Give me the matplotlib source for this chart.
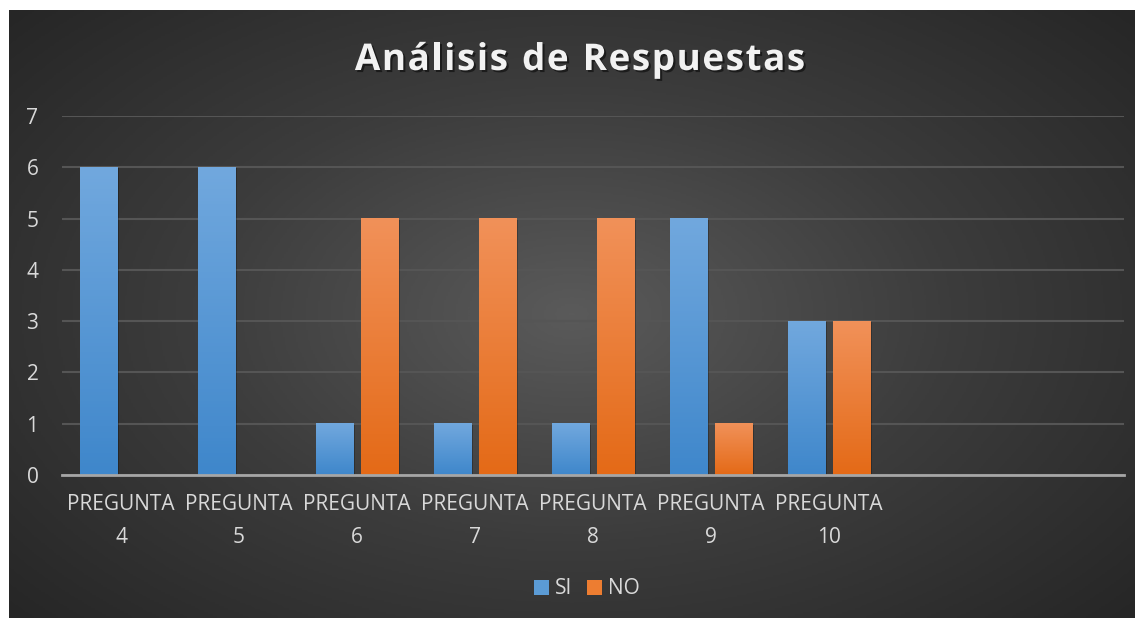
import numpy as np
import matplotlib
matplotlib.use("Agg")
import matplotlib.pyplot as plt
import matplotlib.patheffects as pe
from matplotlib.patches import Rectangle

categorias = ["PREGUNTA\n4", "PREGUNTA\n5", "PREGUNTA\n6", "PREGUNTA\n7",
              "PREGUNTA\n8", "PREGUNTA\n9", "PREGUNTA\n10", "", ""]
si = [6, 6, 1, 1, 1, 5, 3]
no = [0, 0, 5, 5, 5, 1, 3]
titulo = "Análisis de Respuestas"

plt.rcParams['font.family'] = ['Open Sans', 'DejaVu Sans']

W, H = 11.44, 6.21
fig = plt.figure(figsize=(W, H), dpi=100)
fig.patch.set_facecolor("white")

# fondo oscuro con degradado radial
bg = fig.add_axes([9 / 1144, 1 - 618 / 621, (1135 - 9) / 1144, (618 - 10) / 621])
yy, xx = np.mgrid[-1:1:300j, -1:1:600j]
r = np.sqrt((xx * 1.0) ** 2 + (yy * 0.9) ** 2)
r = np.clip(r / 1.35, 0, 1)
bg.imshow(r, cmap=matplotlib.colors.LinearSegmentedColormap.from_list(
    "bg", ["#5a5a5a", "#3c3c3c", "#262626"]), aspect="auto", extent=[0, 1, 0, 1])
bg.set_axis_off()

ax = fig.add_axes([62 / 1144, 1 - 475 / 621, (1124 - 62) / 1144, (475 - 116) / 621])
ax.patch.set_alpha(0)

ancho = 0.32
desp = 0.19


def barra_degradado(x0, h, c_top, c_bot):
    if h <= 0:
        return
    cm = matplotlib.colors.LinearSegmentedColormap.from_list("g", [c_bot, c_top])
    grad = np.linspace(0, 1, 100).reshape(-1, 1)
    # sombra suave
    ax.add_patch(Rectangle((x0 + 0.012, 0), ancho, h - 0.02, facecolor="black",
                           alpha=0.25, edgecolor="none", zorder=2))
    ax.imshow(grad, cmap=cm, origin="lower", aspect="auto",
              extent=[x0, x0 + ancho, 0, h], zorder=3)


for i, v in enumerate(si):
    barra_degradado(i - desp - ancho / 2, v, "#71a8de", "#3f87cb")
for i, v in enumerate(no):
    barra_degradado(i + desp - ancho / 2, v, "#f19159", "#e46a17")

ax.set_xlim(-0.5, len(categorias) - 0.5)
ax.set_ylim(0, 7)

ax.set_yticks(range(0, 8))
ax.yaxis.grid(True, color="#555555", linewidth=1.5, zorder=0)
ax.set_axisbelow(True)
ax.set_xticks(range(len(categorias)))
ax.set_xticklabels(categorias, color="#d9d9d9", fontsize=15, linespacing=1.75)
ax.tick_params(axis="y", colors="#d9d9d9", labelsize=15, length=0, pad=17)
ax.tick_params(axis="x", length=0, pad=14)
for lab in ax.get_yticklabels():
    lab.set_color("#d9d9d9")
for s in ["top", "right", "left"]:
    ax.spines[s].set_visible(False)
ax.spines["bottom"].set_color("#a6a6a6")
ax.spines["bottom"].set_linewidth(2)
ax.spines["bottom"].set_zorder(5)

# titulo con espaciado entre letras
renderer = fig.canvas.get_renderer()
props = dict(fontsize=26.5, fontweight="bold", color="#f2f2f2", va="center", ha="left",
             path_effects=[pe.withSimplePatchShadow(offset=(1.5, -1.5), shadow_rgbFace="black", alpha=0.5)])
espacio = 1.6  # px
anchos = []
for ch in titulo:
    t = fig.text(0, 0, ch if ch != " " else "n", **props)
    w = t.get_window_extent(renderer).width
    if ch == " ":
        w *= 0.45
    anchos.append(w)
    t.remove()
total = sum(anchos) + espacio * (len(titulo) - 1)
x = 580 - total / 2
ytit = 1 - 60 / 621
for ch, w in zip(titulo, anchos):
    if ch != " ":
        fig.text(x / 1144, ytit, ch, **props)
    x += w + espacio

# leyenda
leg = [Rectangle((0, 0), 1, 1, facecolor="#5b9bd5"), Rectangle((0, 0), 1, 1, facecolor="#ed7d31")]
fig.legend(leg, ["SI", "NO"], loc="center", bbox_to_anchor=(0.513, 1 - 589 / 621), ncol=2,
           frameon=False, labelcolor="#d9d9d9", fontsize=15, handlelength=0.7,
           handleheight=0.7, handletextpad=0.3, columnspacing=0.7)

fig.savefig("out.png", dpi=100, facecolor="white")
